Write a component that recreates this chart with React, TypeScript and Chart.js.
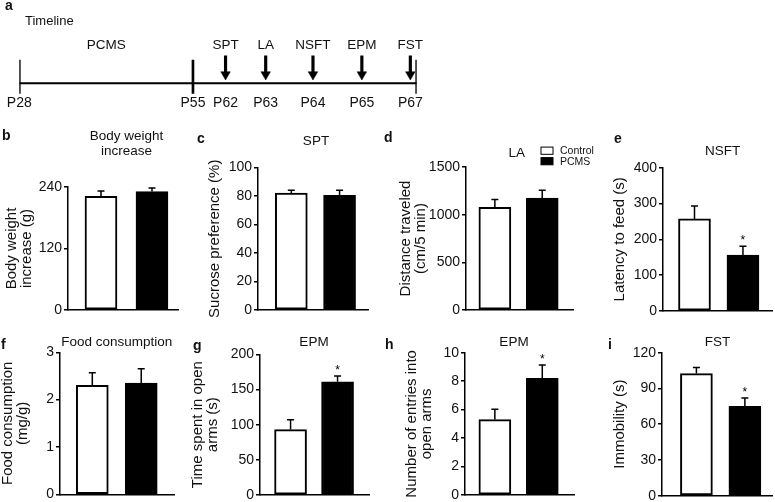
import React, { useEffect, useRef } from "react";
import { Chart, registerables } from "chart.js";
Chart.register(...registerables);

const FONT = "'Liberation Sans', Arial, Helvetica, sans-serif";
const INK = "#111";

// ---------- Timeline (panel a) ----------
const timelineDays = ["P28", "P55", "P62", "P63", "P64", "P65", "P67"];
const timelinePos = [0, 43.7, 51.9, 62, 73.9, 86.2, 100]; // schematic position along the timeline (%)
const boundaryDays = ["P28", "P55", "P67"];
const phaseName = "PCMS";
const testNames = ["SPT", "LA", "NSFT", "EPM", "FST"];
const testDays = ["P62", "P63", "P64", "P65", "P67"];

// ---------- Groups ----------
const groups = ["Control", "PCMS"];
const groupColors = ["#ffffff", "#000000"];

// ---------- Values (mean, SEM) ----------
const bodyWeightMean = [222, 231];
const bodyWeightSem = [10, 7];
const bodyWeightTicks = [0, 120, 240];

const sptMean = [82, 80.5];
const sptSem = [2, 3.5];
const sptTicks = [0, 20, 40, 60, 80, 100];

const laMean = [1078, 1175];
const laSem = [82, 80];
const laTicks = [0, 500, 1000, 1500];

const nsftMean = [257, 156];
const nsftSem = [36, 25];
const nsftTicks = [0, 100, 200, 300, 400];

const foodMean = [2.3, 2.35];
const foodSem = [0.27, 0.3];
const foodTicks = [0, 1, 2, 3];

const epmTimeMean = [93, 161];
const epmTimeSem = [14, 8];
const epmTimeTicks = [0, 50, 100, 150, 200];

const epmEntryMean = [5.3, 8.2];
const epmEntrySem = [0.72, 0.93];
const epmEntryTicks = [0, 2, 4, 6, 8, 10];

const fstMean = [102.5, 75];
const fstSem = [5, 7];
const fstTicks = [0, 30, 60, 90, 120];

const noSig = [false, false];
const pcmsSig = [false, true];

type Panel = {
  letter: string; letterX: number; letterBase: number;
  title: string[]; titleX: number; titleBase: number;
  yTitle: string[];
  mean: number[]; sem: number[]; sig: boolean[]; ticks: number[];
  xMin: number; xMax: number;
  left: number; top: number; right: number; height: number;
  axisX: number; areaTop: number; areaBottom: number;
  canvasRight?: number;
  legend?: boolean;
};

const panels: Panel[] = [
  { letter: "b", letterX: 2, letterBase: 140, title: ["Body weight", "increase"], titleX: 126.5, titleBase: 140,
    yTitle: ["Body weight", "increase (g)"], mean: bodyWeightMean, sem: bodyWeightSem, sig: noSig, ticks: bodyWeightTicks,
    xMin: 0.353, xMax: 2.53, left: 4, top: 120, right: 179, height: 205, axisX: 68, areaTop: 187, areaBottom: 310 },
  { letter: "c", letterX: 197, letterBase: 142.7, title: ["SPT"], titleX: 316, titleBase: 145,
    yTitle: ["Sucrose preference (%)"], mean: sptMean, sem: sptSem, sig: noSig, ticks: sptTicks,
    xMin: 0.31, xMax: 2.61, left: 207, top: 120, right: 369, height: 205, axisX: 258, areaTop: 167.5, areaBottom: 310 },
  { letter: "d", letterX: 384, letterBase: 141.7, title: ["LA"], titleX: 516.7, titleBase: 156.7,
    yTitle: ["Distance traveled", "(cm/5 min)"], mean: laMean, sem: laSem, sig: noSig, ticks: laTicks,
    xMin: 0.39, xMax: 2.65, left: 398, top: 120, right: 573, height: 205, axisX: 466, areaTop: 167, areaBottom: 310,
    canvasRight: 605, legend: true },
  { letter: "e", letterX: 614, letterBase: 143.3, title: ["NSFT"], titleX: 722.5, titleBase: 155,
    yTitle: ["Latency to feed (s)"], mean: nsftMean, sem: nsftSem, sig: pcmsSig, ticks: nsftTicks,
    xMin: 0.35, xMax: 2.62, left: 612, top: 120, right: 773, height: 205, axisX: 663, areaTop: 167.7, areaBottom: 311 },
  { letter: "f", letterX: 1, letterBase: 349.3, title: ["Food consumption"], titleX: 116.7, titleBase: 345.5,
    yTitle: ["Food consumption", "(mg/g)"], mean: foodMean, sem: foodSem, sig: noSig, ticks: foodTicks,
    xMin: 0.34, xMax: 2.69, left: 0, top: 325, right: 175, height: 190, axisX: 60, areaTop: 352.3, areaBottom: 494.3 },
  { letter: "g", letterX: 193, letterBase: 349.5, title: ["EPM"], titleX: 314, titleBase: 345.7,
    yTitle: ["Time spent in open", "arms (s)"], mean: epmTimeMean, sem: epmTimeSem, sig: pcmsSig, ticks: epmTimeTicks,
    xMin: 0.35, xMax: 2.69, left: 190, top: 325, right: 370, height: 190, axisX: 260, areaTop: 354.3, areaBottom: 495 },
  { letter: "h", letterX: 385, letterBase: 349.3, title: ["EPM"], titleX: 514, titleBase: 345.7,
    yTitle: ["Number of entries into", "open arms"], mean: epmEntryMean, sem: epmEntrySem, sig: pcmsSig, ticks: epmEntryTicks,
    xMin: 0.37, xMax: 2.69, left: 404, top: 325, right: 575, height: 190, axisX: 465, areaTop: 352.7, areaBottom: 495 },
  { letter: "i", letterX: 608, letterBase: 349.3, title: ["FST"], titleX: 717.5, titleBase: 345.5,
    yTitle: ["Immobility (s)"], mean: fstMean, sem: fstSem, sig: pcmsSig, ticks: fstTicks,
    xMin: 0.29, xMax: 2.58, left: 612, top: 325, right: 773, height: 190, axisX: 662, areaTop: 352.7, areaBottom: 495.7 },
];

function TimelineChart() {
  const ref = useRef<HTMLCanvasElement>(null);
  const W = 440, H = 118;
  useEffect(() => {
    const posOf = (d: string) => timelinePos[timelineDays.indexOf(d)];
    const arrowX = (d: string) => posOf(d) - (boundaryDays.includes(d) ? 1.6 : 0);
    const textPlugin = {
      id: "timelineText",
      afterDraw(chart: any) {
        const ctx = chart.ctx;
        const xs = chart.scales.x, ys = chart.scales.y;
        ctx.save();
        ctx.fillStyle = INK;
        ctx.textBaseline = "middle";
        ctx.textAlign = "left";
        ctx.font = `13px ${FONT}`;
        ctx.fillText("Timeline", 25, 21.7);
        ctx.textAlign = "center";
        ctx.font = `13.5px ${FONT}`;
        const topY = ys.getPixelForValue(3.83);
        ctx.fillText(phaseName, xs.getPixelForValue((posOf(boundaryDays[0]) + posOf(boundaryDays[1])) / 2), topY);
        testNames.forEach((n, i) => ctx.fillText(n, xs.getPixelForValue(arrowX(testDays[i])), topY));
        ctx.font = `14px ${FONT}`;
        const botY = ys.getPixelForValue(-2.0);
        timelineDays.forEach((d) => {
          const x = testDays.includes(d) ? arrowX(d) : posOf(d);
          ctx.fillText(d, xs.getPixelForValue(x), botY);
        });
        ctx.restore();
      },
    };
    const chart = new Chart(ref.current!, {
      type: "bar",
      data: {
        datasets: [
          { type: "line", data: [{ x: posOf(boundaryDays[0]), y: 0 }, { x: posOf(boundaryDays[boundaryDays.length - 1]), y: 0 }],
            borderColor: "#000", borderWidth: 2, pointRadius: 0 } as any,
          { type: "bar", data: boundaryDays.map((d) => ({ x: posOf(d), y: [-1.0, 2.33] })),
            backgroundColor: "#000", barThickness: 2, grouped: false } as any,
          { type: "bar", data: testDays.map((d) => ({ x: arrowX(d), y: [0.95, 2.75] })),
            backgroundColor: "#000", barThickness: 2.5, grouped: false } as any,
          { type: "scatter", data: testDays.map((d) => ({ x: arrowX(d), y: 0.88 })),
            pointStyle: "triangle", pointRotation: 180, pointRadius: 5.5, pointBackgroundColor: "#000",
            pointBorderColor: "#000", pointBorderWidth: 0.5, showLine: false } as any,
        ],
      },
      options: {
        responsive: false, animation: false, devicePixelRatio: 1,
        layout: { padding: { left: 19.3, right: W - 416.7, top: 0, bottom: 0 }, autoPadding: false },
        scales: {
          x: { type: "linear", min: 0, max: 100, display: false, offset: false },
          y: { type: "linear", min: -3.47, max: 8.33, display: false },
        },
        plugins: { legend: { display: false }, tooltip: { enabled: false } },
      } as any,
      plugins: [textPlugin],
    });
    return () => chart.destroy();
  }, []);
  return <canvas ref={ref} width={W} height={H} style={{ position: "absolute", left: 0, top: 0 }} />;
}

function BarPanel({ p }: { p: Panel }) {
  const ref = useRef<HTMLCanvasElement>(null);
  const canvasRight = p.canvasRight ?? p.right;
  const W = canvasRight - p.left;
  useEffect(() => {
    const decor = {
      id: "decor",
      afterDatasetsDraw(chart: any) {
        const ctx = chart.ctx;
        const meta = chart.getDatasetMeta(0);
        const ys = chart.scales.y;
        ctx.save();
        ctx.strokeStyle = "#000";
        ctx.lineWidth = 1.5;
        meta.data.forEach((bar: any, i: number) => {
          const x = bar.x;
          const yTop = ys.getPixelForValue(p.mean[i]);
          const yErr = ys.getPixelForValue(p.mean[i] + p.sem[i]);
          ctx.beginPath();
          ctx.moveTo(x, yTop);
          ctx.lineTo(x, yErr);
          ctx.moveTo(x - 3.5, yErr);
          ctx.lineTo(x + 3.5, yErr);
          ctx.stroke();
          if (p.sig[i]) {
            ctx.fillStyle = "#000";
            ctx.font = `12px ${FONT}`;
            ctx.textAlign = "center";
            ctx.textBaseline = "alphabetic";
            ctx.fillText("*", x, yErr - 2.3);
          }
        });
        ctx.restore();
      },
      afterDraw(chart: any) {
        const ctx = chart.ctx;
        ctx.save();
        ctx.fillStyle = INK;
        ctx.font = `13.5px ${FONT}`;
        ctx.textAlign = "center";
        ctx.textBaseline = "alphabetic";
        p.title.forEach((t, i) => ctx.fillText(t, p.titleX - p.left, p.titleBase - p.top + i * 14.5));
        if (p.legend) {
          const centers = [150.7, 161.2];
          groups.forEach((g, i) => {
            const cy = centers[i] - p.top;
            ctx.fillStyle = groupColors[i];
            ctx.fillRect(541 - p.left, cy - 3.6, 12, 7.2);
            ctx.strokeStyle = "#000";
            ctx.lineWidth = 1;
            ctx.strokeRect(541 - p.left, cy - 3.6, 12, 7.2);
            ctx.fillStyle = INK;
            ctx.font = `10.5px ${FONT}`;
            ctx.textAlign = "left";
            ctx.textBaseline = "middle";
            ctx.fillText(g, 560 - p.left, cy + 0.5);
          });
        }
        ctx.restore();
      },
    };
    const ticks = p.ticks;
    const chart = new Chart(ref.current!, {
      type: "bar",
      data: {
        datasets: [
          {
            label: groups.join(" / "),
            data: p.mean.map((v, i) => ({ x: i + 1, y: v })),
            backgroundColor: groupColors,
            borderColor: "#000",
            borderWidth: 2,
            borderSkipped: false,
            barThickness: 32,
            grouped: false,
          } as any,
        ],
      },
      options: {
        responsive: false, animation: false, devicePixelRatio: 1,
        layout: {
          padding: { left: 0, right: canvasRight - p.right, top: p.areaTop - p.top, bottom: p.top + p.height - p.areaBottom },
          autoPadding: false,
        },
        scales: {
          x: {
            type: "linear", min: p.xMin, max: p.xMax, offset: false,
            ticks: { display: false },
            grid: { display: false, drawTicks: false, offset: false },
            border: { display: true, color: "#000", width: 1.5 },
            afterFit: (s: any) => { s.height = 0; },
          },
          y: {
            type: "linear", min: ticks[0], max: ticks[ticks.length - 1],
            ticks: {
              stepSize: ticks[1] - ticks[0],
              callback: (v: any) => String(v),
              font: { family: FONT, size: 14, lineHeight: 1 },
              color: INK, padding: 2, autoSkip: false,
            },
            grid: { display: true, drawOnChartArea: false, drawTicks: true, tickLength: 4, color: "#000", lineWidth: 1.5 },
            border: { display: true, color: "#000", width: 1.5 },
            title: { display: true, text: p.yTitle, font: { family: FONT, size: 15, lineHeight: 1 }, color: INK, padding: 0 },
            afterFit: (s: any) => { s.width = p.axisX - p.left; },
          },
        },
        plugins: { legend: { display: false }, tooltip: { enabled: false } },
      } as any,
      plugins: [decor],
    });
    return () => chart.destroy();
  }, []);
  return (
    <canvas ref={ref} width={W} height={p.height}
      style={{ position: "absolute", left: p.left, top: p.top }} />
  );
}

export default function App() {
  const letters = [{ letter: "a", letterX: 5, letterBase: 10 }, ...panels];
  return (
    <div style={{ position: "fixed", left: 0, top: 0, width: 775, height: 502, overflow: "hidden", background: "#fff", fontFamily: FONT }}>
      <TimelineChart />
      {panels.map((p) => <BarPanel key={p.letter} p={p} />)}
      {letters.map((l) => (
        <div key={"L" + l.letter}
          style={{ position: "absolute", left: l.letterX, top: l.letterBase - 11.85, fontSize: 14, lineHeight: "14px", fontWeight: "bold", color: INK, zIndex: 2 }}>
          {l.letter}
        </div>
      ))}
    </div>
  );
}
